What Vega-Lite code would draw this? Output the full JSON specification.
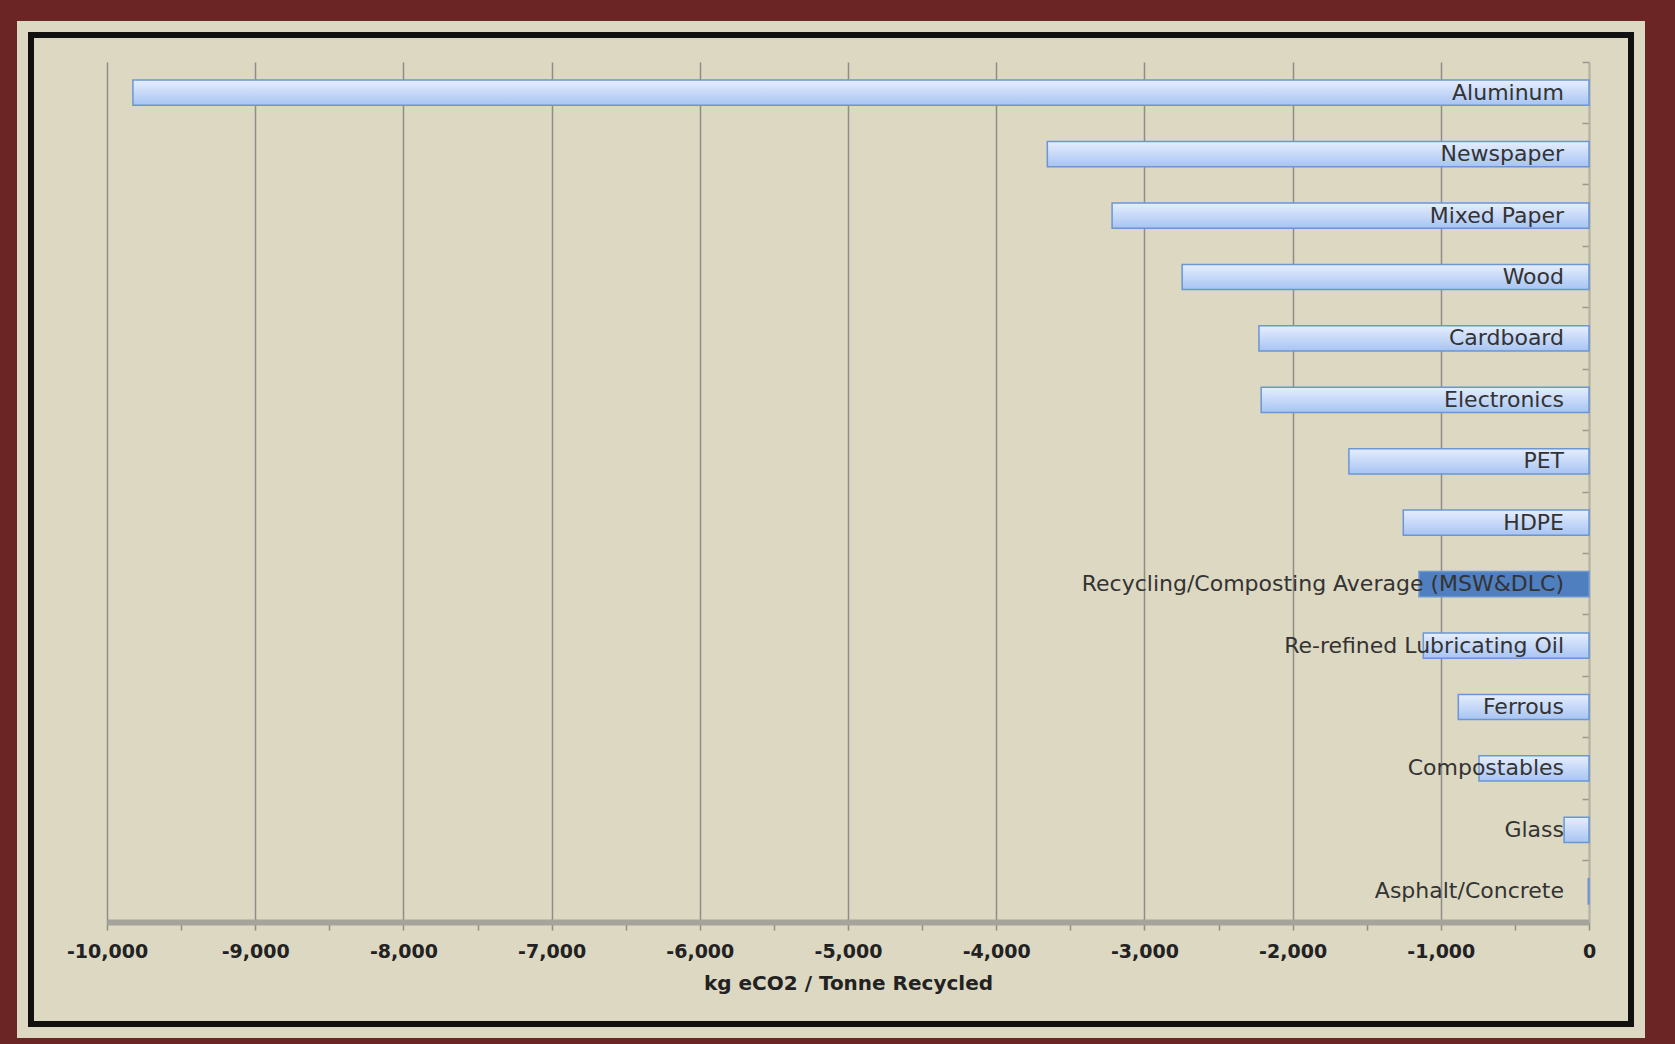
{
  "$schema": "https://vega.github.io/schema/vega-lite/v6.json",
  "description": "Recycling emission factors, kg eCO2 per tonne recycled.",
  "autosize": {"type": "none"},
  "width": 1600,
  "height": 989,
  "padding": {"left": 31, "top": 35, "right": 44, "bottom": 20},
  "background": "#6b2525",
  "config": {
    "view": {"fill": "#ddd8c2", "stroke": null},
    "font": "DejaVu Sans"
  },
  "data": {
    "values": [
      {"material": "Aluminum", "value": -9825},
      {"material": "Newspaper", "value": -3655},
      {"material": "Mixed Paper", "value": -3218},
      {"material": "Wood", "value": -2745},
      {"material": "Cardboard", "value": -2227},
      {"material": "Electronics", "value": -2212},
      {"material": "PET", "value": -1620},
      {"material": "HDPE", "value": -1253},
      {"material": "Recycling/Composting Average (MSW&DLC)", "value": -1147},
      {"material": "Re-refined Lubricating Oil", "value": -1118},
      {"material": "Ferrous", "value": -882},
      {"material": "Compostables", "value": -742},
      {"material": "Glass", "value": -168},
      {"material": "Asphalt/Concrete", "value": -5}
    ]
  },
  "resolve": {"axis": {"x": "independent"}},
  "layer": [
    {
      "mark": {"type": "rect", "fillOpacity": 0, "stroke": "#ddd8c2", "strokeWidth": 28},
      "encoding": {}
    },
    {
      "mark": {"type": "rect", "fillOpacity": 0, "stroke": "#111111", "strokeWidth": 6},
      "encoding": {}
    },
    {
      "mark": {
        "type": "bar",
        "height": {"band": 0.41},
        "stroke": "#6a96d4",
        "strokeWidth": 1.5
      },
      "encoding": {
        "y": {
          "field": "material",
          "type": "nominal",
          "sort": null,
          "scale": {"range": [27, 887], "paddingInner": 0, "paddingOuter": 0},
          "axis": {
            "orient": "right",
            "offset": -42,
            "title": null,
            "labels": false,
            "grid": false,
            "bandPosition": 0,
            "domainColor": "#b5b3a8",
            "domainWidth": 1.5,
            "tickColor": "#9a988f",
            "tickSize": -7,
            "tickWidth": 1.5
          }
        },
        "x": {
          "field": "value",
          "type": "quantitative",
          "scale": {"domain": [-10000, 0], "range": [76, 1558], "nice": false},
          "axis": {
            "orient": "bottom",
            "offset": -102,
            "grid": false,
            "values": [-10000, -9500, -9000, -8500, -8000, -7500, -7000, -6500, -6000, -5500, -5000, -4500, -4000, -3500, -3000, -2500, -2000, -1500, -1000, -500, 0],
            "labelExpr": "datum.value % 1000 === 0 ? replace(format(datum.value, ','), '\u2212', '-') : ''",
            "labelFont": "DejaVu Sans",
            "labelFontWeight": "bold",
            "labelFontSize": 19,
            "labelColor": "#222222",
            "labelPadding": 12,
            "labelFlush": false,
            "labelOverlap": false,
            "domainColor": "#a6a49a",
            "domainWidth": 6,
            "tickColor": "#8e8d86",
            "tickSize": 8,
            "tickWidth": 1.5,
            "title": "kg eCO2 / Tonne Recycled",
            "titleFont": "DejaVu Sans",
            "titleFontWeight": "bold",
            "titleFontSize": 20,
            "titleColor": "#222222",
            "titlePadding": 12
          }
        },
        "fill": {
          "condition": {"test": "datum.material === 'Recycling/Composting Average (MSW&DLC)'", "value": "#4f7fbf"},
          "value": {
            "gradient": "linear",
            "x1": 0, "y1": 0, "x2": 0, "y2": 1,
            "stops": [
              {"offset": 0, "color": "#e6eefd"},
              {"offset": 1, "color": "#a7c4f3"}
            ]
          }
        }
      }
    },
    {
      "mark": {
        "type": "text",
        "align": "right",
        "baseline": "middle",
        "dx": -25,
        "font": "DejaVu Sans",
        "fontSize": 22,
        "color": "#333333"
      },
      "encoding": {
        "y": {"field": "material", "type": "nominal", "sort": null},
        "x": {
          "datum": 0,
          "type": "quantitative",
          "axis": {
            "orient": "top",
            "grid": true,
            "gridColor": "#8e8d88",
            "gridWidth": 1.5,
            "values": [-10000, -9000, -8000, -7000, -6000, -5000, -4000, -3000, -2000, -1000, 0],
            "domain": false,
            "ticks": false,
            "labels": false,
            "title": null
          }
        },
        "text": {"field": "material", "type": "nominal"}
      }
    }
  ]
}
